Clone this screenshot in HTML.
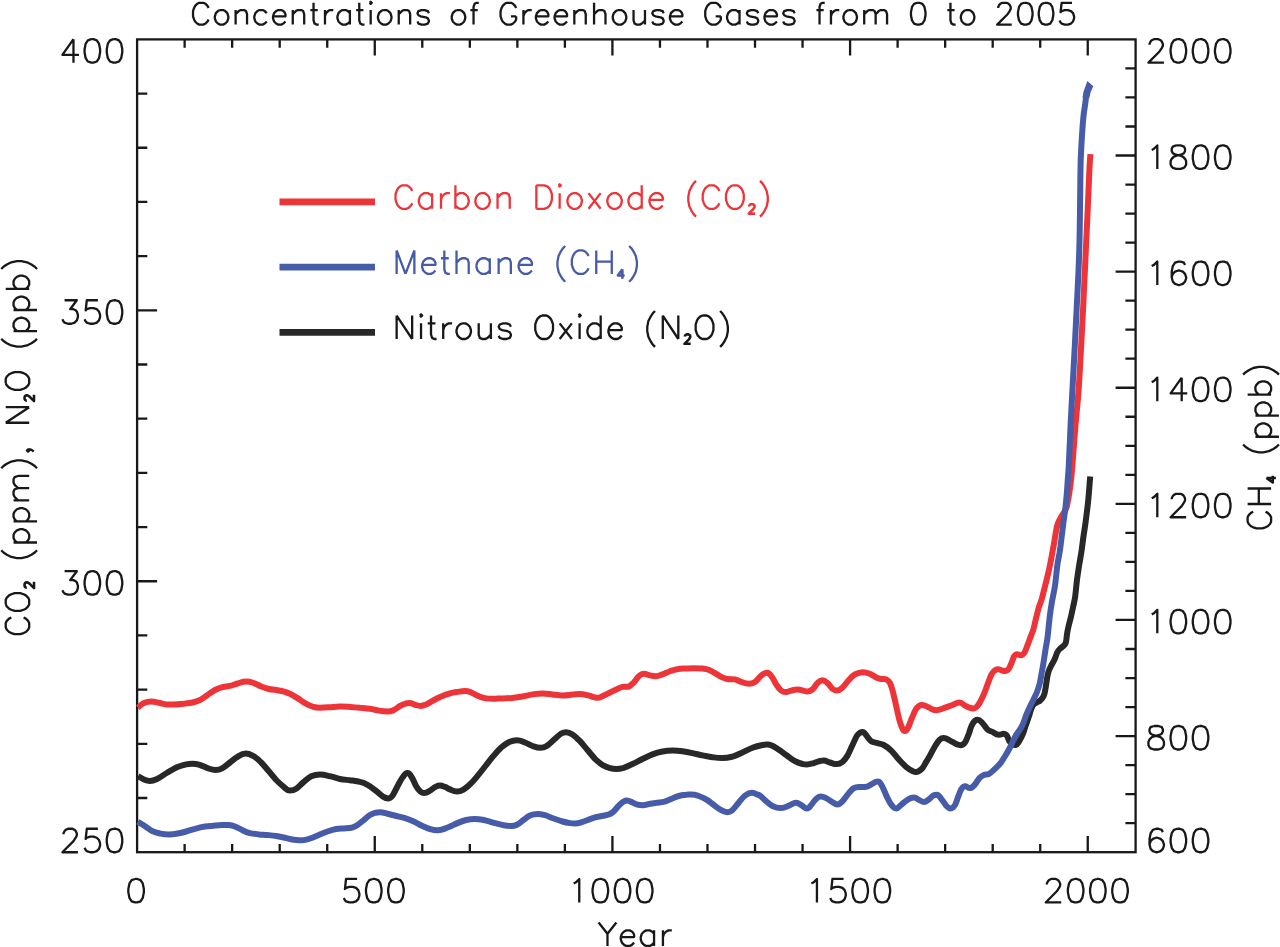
<!DOCTYPE html>
<html lang="en"><head><meta charset="utf-8">
<title>Concentrations of Greenhouse Gases from 0 to 2005</title>
<style>html,body{margin:0;padding:0;background:#fff;font-family:"Liberation Sans",sans-serif;}body{width:1280px;height:947px;overflow:hidden;}svg{display:block;}.t{fill:none;stroke:#181818;stroke-width:2.30;stroke-linecap:butt;stroke-linejoin:round;}.f{fill:none;stroke:#181818;stroke-width:2.30;stroke-linecap:butt;}.c{fill:none;stroke-width:6;stroke-linejoin:round;stroke-linecap:butt;}</style></head><body>
<svg width="1280" height="947" viewBox="0 0 1280 947" role="img" aria-label="Concentrations of Greenhouse Gases from 0 to 2005">
<rect width="1280" height="947" fill="#fff"/>
<path class="f" d="M184.63 852.20V843.90 M184.63 39.40V47.70 M232.16 852.20V843.90 M232.16 39.40V47.70 M279.70 852.20V843.90 M279.70 39.40V47.70 M327.23 852.20V843.90 M327.23 39.40V47.70 M374.76 852.20V836.00 M374.76 39.40V55.60 M422.29 852.20V843.90 M422.29 39.40V47.70 M469.83 852.20V843.90 M469.83 39.40V47.70 M517.36 852.20V843.90 M517.36 39.40V47.70 M564.89 852.20V843.90 M564.89 39.40V47.70 M612.42 852.20V836.00 M612.42 39.40V55.60 M659.96 852.20V843.90 M659.96 39.40V47.70 M707.49 852.20V843.90 M707.49 39.40V47.70 M755.02 852.20V843.90 M755.02 39.40V47.70 M802.56 852.20V843.90 M802.56 39.40V47.70 M850.09 852.20V836.00 M850.09 39.40V55.60 M897.62 852.20V843.90 M897.62 39.40V47.70 M945.15 852.20V843.90 M945.15 39.40V47.70 M992.69 852.20V843.90 M992.69 39.40V47.70 M1040.22 852.20V843.90 M1040.22 39.40V47.70 M1087.75 852.20V836.00 M1087.75 39.40V55.60 M137.10 798.01H147.30 M137.10 743.83H147.30 M137.10 689.64H147.30 M137.10 635.45H147.30 M137.10 581.27H157.10 M137.10 527.08H147.30 M137.10 472.89H147.30 M137.10 418.71H147.30 M137.10 364.52H147.30 M137.10 310.33H157.10 M137.10 256.15H147.30 M137.10 201.96H147.30 M137.10 147.77H147.30 M137.10 93.59H147.30 M1135.60 823.17H1125.40 M1135.60 794.14H1125.40 M1135.60 765.11H1125.40 M1135.60 736.09H1115.60 M1135.60 707.06H1125.40 M1135.60 678.03H1125.40 M1135.60 649.00H1125.40 M1135.60 619.97H1115.60 M1135.60 590.94H1125.40 M1135.60 561.91H1125.40 M1135.60 532.89H1125.40 M1135.60 503.86H1115.60 M1135.60 474.83H1125.40 M1135.60 445.80H1125.40 M1135.60 416.77H1125.40 M1135.60 387.74H1115.60 M1135.60 358.71H1125.40 M1135.60 329.69H1125.40 M1135.60 300.66H1125.40 M1135.60 271.63H1115.60 M1135.60 242.60H1125.40 M1135.60 213.57H1125.40 M1135.60 184.54H1125.40 M1135.60 155.51H1115.60 M1135.60 126.49H1125.40 M1135.60 97.46H1125.40 M1135.60 68.43H1125.40"/>
<rect class="f" x="137.10" y="39.40" width="998.50" height="812.80" stroke-linejoin="miter"/>
<path class="c" stroke="#282828" stroke-width="7.1" d="M138.1 776.2C139.9 777.2 141.5 778.4 143.5 779.2C145.5 780.0 146.6 780.9 150.0 780.9C153.4 780.9 154.6 780.1 157.5 778.8C160.4 777.4 164.2 774.4 167.5 772.5C170.8 770.6 174.4 768.5 177.5 767.1C180.6 765.8 183.8 765.0 186.2 764.4C188.8 763.8 189.2 763.8 192.5 763.8C195.8 763.8 197.5 764.3 200.0 765.0C202.5 765.7 204.9 767.3 207.5 768.1C210.1 768.9 212.0 770.0 215.6 770.0C219.2 770.0 220.1 769.4 222.5 768.1C224.9 766.9 227.5 764.4 230.0 762.5C232.5 760.6 234.9 758.4 237.5 756.9C240.1 755.4 241.7 753.5 245.6 753.5C249.5 753.5 251.1 754.8 253.8 756.2C256.4 757.8 258.8 760.0 261.2 762.5C263.8 765.0 266.2 768.3 268.8 771.2C271.2 774.2 273.8 777.4 276.2 780.0C278.8 782.6 281.5 785.1 283.8 786.9C286.0 788.7 287.0 790.6 290.0 790.6C293.0 790.6 294.0 790.2 296.2 788.8C298.5 787.3 301.2 784.0 303.8 781.9C306.2 779.8 308.5 777.5 311.2 776.2C314.0 775.0 315.5 774.4 320.0 774.4C324.5 774.4 326.7 775.5 330.0 776.2C333.3 777.0 336.7 778.3 340.0 779.0C343.3 779.7 346.7 779.8 350.0 780.2C353.3 780.7 357.1 781.1 360.0 781.9C362.9 782.6 365.0 783.4 367.5 784.8C370.0 786.1 372.5 788.1 375.0 790.0C377.5 791.9 380.3 794.8 382.5 796.2C384.7 797.7 385.7 798.5 388.1 798.5C390.5 798.5 390.9 797.6 392.5 795.6C394.1 793.6 395.8 789.3 397.5 786.2C399.2 783.2 400.8 779.7 402.5 777.5C404.2 775.3 405.2 773.1 407.5 773.1C409.8 773.1 410.4 775.3 411.9 777.5C413.4 779.7 414.9 784.0 416.2 786.2C417.6 788.5 418.6 790.1 420.0 791.2C421.4 792.4 422.0 793.1 424.4 793.1C426.8 793.1 428.2 791.6 430.0 790.6C431.8 789.6 433.3 788.1 435.0 787.2C436.7 786.4 437.6 785.6 440.0 785.6C442.4 785.6 443.3 786.3 445.0 786.9C446.7 787.5 448.0 788.6 450.0 789.4C452.0 790.2 453.6 791.6 456.9 791.6C460.2 791.6 461.4 790.8 463.8 789.4C466.1 788.0 468.8 785.6 471.2 783.1C473.8 780.6 476.2 777.4 478.8 774.4C481.2 771.4 483.8 768.1 486.2 765.0C488.8 761.9 491.2 758.5 493.8 755.6C496.2 752.7 498.8 749.7 501.2 747.5C503.8 745.3 506.1 743.5 508.8 742.2C511.4 741.0 513.0 740.2 516.9 740.2C520.8 740.2 522.4 741.5 525.0 742.5C527.6 743.5 529.9 745.1 532.5 746.0C535.1 746.9 537.0 747.8 540.6 747.8C544.2 747.8 545.1 746.9 547.5 745.4C549.9 743.9 552.7 740.7 555.0 738.8C557.3 736.8 559.4 734.6 561.2 733.5C563.1 732.4 563.5 732.2 566.2 732.2C569.0 732.2 570.2 732.9 572.5 734.4C574.8 735.9 577.5 738.6 580.0 741.2C582.5 743.9 585.0 747.1 587.5 750.0C590.0 752.9 592.5 756.2 595.0 758.8C597.5 761.2 600.0 763.4 602.5 765.0C605.0 766.6 607.7 767.4 610.0 768.1C612.3 768.8 612.9 769.0 616.2 769.0C619.6 769.0 621.0 768.6 623.8 767.8C626.5 766.9 629.4 765.5 632.5 764.0C635.6 762.5 639.2 760.6 642.5 759.0C645.8 757.4 649.2 755.6 652.5 754.4C655.8 753.1 659.2 752.1 662.5 751.5C665.8 750.9 667.7 750.6 672.5 750.6C677.3 750.6 679.2 750.8 682.5 751.2C685.8 751.7 689.2 752.4 692.5 753.1C695.8 753.8 699.2 754.7 702.5 755.4C705.8 756.1 709.2 756.8 712.5 757.2C715.8 757.7 717.7 758.1 722.5 758.1C727.3 758.1 729.2 757.5 732.5 756.6C735.8 755.7 739.2 754.0 742.5 752.5C745.8 751.0 749.2 749.0 752.5 747.8C755.8 746.5 759.9 745.5 762.5 745.0C765.1 744.5 764.4 744.6 768.0 744.6C771.6 744.6 774.5 747.0 777.5 748.8C780.5 750.5 783.3 752.9 786.2 755.0C789.2 757.1 792.3 759.8 795.0 761.2C797.7 762.8 800.5 763.5 802.5 764.0C804.5 764.5 804.2 764.5 806.9 764.5C809.6 764.5 811.6 763.7 813.8 763.1C815.9 762.5 818.3 761.4 820.0 761.0C821.7 760.6 821.3 760.6 823.8 760.6C826.2 760.6 827.8 761.9 830.0 762.5C832.2 763.1 833.9 764.1 836.9 764.1C839.9 764.1 840.7 763.3 842.5 761.9C844.3 760.5 845.8 758.4 847.5 755.6C849.2 752.8 850.8 748.4 852.5 745.0C854.2 741.6 855.8 737.2 857.5 735.0C859.2 732.8 860.2 731.9 862.5 731.9C864.8 731.9 865.4 734.7 866.9 736.2C868.4 737.8 869.5 740.1 871.2 741.2C873.0 742.4 875.4 742.5 877.5 743.1C879.6 743.7 881.5 743.8 883.8 745.0C886.0 746.2 888.8 748.2 891.2 750.6C893.8 753.0 896.2 756.7 898.8 759.4C901.2 762.1 904.0 765.0 906.2 766.9C908.5 768.8 910.8 770.2 912.5 771.0C914.2 771.8 914.0 771.9 916.2 771.9C918.5 771.9 920.2 770.4 921.9 768.8C923.6 767.1 924.9 764.1 926.2 761.9C927.6 759.7 928.5 758.1 930.0 755.5C931.5 752.9 933.4 748.8 935.0 746.2C936.6 743.7 937.9 741.4 939.4 740.0C940.9 738.6 941.2 738.1 943.8 738.1C946.3 738.1 947.9 739.6 950.0 740.6C952.1 741.6 954.5 743.2 956.2 744.0C958.0 744.8 958.5 745.2 960.6 745.2C962.7 745.2 963.6 744.4 965.0 742.5C966.4 740.6 967.5 736.9 968.8 733.8C970.0 730.6 971.0 726.1 972.5 723.8C974.0 721.4 975.1 719.8 977.5 719.8C979.9 719.8 980.8 721.5 982.5 723.1C984.2 724.7 985.8 727.9 987.5 729.4C989.2 730.9 990.6 731.0 992.5 731.9C994.4 732.8 996.0 734.8 998.8 734.8C1001.5 734.8 1001.8 733.8 1003.8 733.8C1005.7 733.8 1006.0 734.4 1006.9 735.6C1007.8 736.9 1008.5 739.8 1009.4 741.2C1010.3 742.7 1011.5 743.8 1012.5 744.4C1013.5 745.0 1013.9 745.0 1015.6 745.0C1017.3 745.0 1018.3 742.5 1019.5 740.7C1020.7 738.9 1021.8 736.5 1022.7 734.4C1023.6 732.3 1024.2 730.1 1024.9 728.0C1025.6 725.9 1026.4 723.8 1027.1 721.7C1027.8 719.6 1028.6 717.4 1029.3 715.3C1030.0 713.2 1030.5 710.8 1031.2 709.0C1031.9 707.2 1032.4 705.9 1033.3 704.8C1034.2 703.7 1035.4 703.3 1036.5 702.6C1037.6 701.9 1038.8 701.6 1039.8 700.8C1040.8 700.0 1041.8 698.9 1042.6 697.8C1043.4 696.7 1043.9 696.0 1044.4 694.1C1044.9 692.2 1045.4 689.2 1045.8 686.7C1046.2 684.2 1046.5 681.8 1046.9 679.3C1047.3 676.8 1047.9 673.8 1048.4 672.0C1048.9 670.2 1049.4 669.5 1049.9 668.3C1050.5 667.1 1051.1 665.8 1051.7 664.6C1052.3 663.4 1053.2 662.2 1053.8 661.0C1054.4 659.8 1054.9 658.6 1055.5 657.2C1056.1 655.8 1056.5 653.9 1057.2 652.5C1057.9 651.1 1058.4 650.3 1059.7 649.0C1061.0 647.7 1063.8 646.1 1064.9 644.6C1066.0 643.1 1066.0 641.6 1066.3 640.0C1066.6 638.4 1066.6 637.2 1066.9 635.0C1067.2 632.8 1067.7 629.9 1068.4 626.8C1069.1 623.7 1070.2 620.2 1071.0 616.6C1071.8 613.0 1072.8 608.6 1073.5 605.2C1074.2 601.8 1074.6 600.6 1075.2 596.3C1075.8 591.9 1076.4 584.3 1077.1 579.1C1077.8 573.9 1078.5 569.6 1079.2 564.9C1080.0 560.1 1080.9 555.4 1081.6 550.6C1082.3 545.8 1082.8 541.0 1083.5 536.3C1084.2 531.5 1084.8 528.0 1085.6 522.1C1086.4 516.2 1087.4 508.3 1088.2 500.7C1089.0 493.1 1089.5 484.5 1090.2 476.4"><title>Nitrous Oxide</title></path>
<path class="c" stroke="#ed3439" stroke-width="7.0" d="M137.7 707.6C139.8 706.1 141.7 704.1 144.0 703.1C146.3 702.1 147.7 701.5 151.2 701.5C154.8 701.5 156.2 702.3 158.8 702.8C161.2 703.2 163.8 704.1 166.2 704.4C168.8 704.7 169.5 704.6 173.8 704.6C178.0 704.6 180.6 704.1 183.8 703.8C186.9 703.4 189.8 703.1 192.5 702.5C195.2 701.9 197.5 701.2 200.0 700.0C202.5 698.8 205.0 696.7 207.5 695.0C210.0 693.3 212.5 691.3 215.0 690.0C217.5 688.7 220.0 687.9 222.5 687.2C225.0 686.6 227.5 686.5 230.0 685.9C232.5 685.3 234.8 684.2 237.5 683.5C240.2 682.8 242.3 681.5 246.2 681.5C250.2 681.5 251.2 682.3 253.8 683.1C256.2 683.9 258.8 685.5 261.2 686.5C263.8 687.5 266.0 688.4 268.8 689.0C271.5 689.6 274.8 689.8 277.5 690.2C280.2 690.7 282.9 691.3 285.0 691.9C287.1 692.5 287.9 692.7 290.0 693.8C292.1 694.8 295.0 696.5 297.5 698.1C300.0 699.7 302.5 701.7 305.0 703.1C307.5 704.5 310.0 705.7 312.5 706.5C315.0 707.3 315.8 707.8 320.0 707.8C324.2 707.8 326.7 707.5 330.0 707.2C333.3 707.0 335.2 706.5 340.0 706.5C344.8 706.5 346.7 706.7 350.0 706.9C353.3 707.1 356.7 707.4 360.0 707.8C363.3 708.1 366.9 708.3 370.0 708.8C373.1 709.2 375.8 710.1 378.8 710.6C381.7 711.1 383.9 711.5 387.5 711.5C391.1 711.5 391.7 710.9 393.8 710.0C395.8 709.1 398.1 707.0 400.0 706.0C401.9 705.0 403.4 704.2 405.0 703.8C406.6 703.3 407.0 703.1 409.4 703.1C411.8 703.1 413.1 704.3 415.0 704.8C416.9 705.2 417.9 705.9 420.6 705.9C423.3 705.9 424.1 705.3 426.2 704.4C428.4 703.5 431.2 701.6 433.8 700.2C436.2 698.9 438.5 697.6 441.2 696.5C444.0 695.4 447.3 694.2 450.0 693.4C452.7 692.6 455.0 692.3 457.5 691.9C460.0 691.5 461.7 691.0 465.0 691.0C468.3 691.0 469.0 691.6 471.2 692.5C473.5 693.4 476.2 695.3 478.8 696.2C481.2 697.2 484.0 698.0 486.2 698.4C488.5 698.8 488.6 698.8 492.5 698.8C496.4 698.8 499.2 698.5 502.5 698.4C505.8 698.3 509.2 698.2 512.5 697.9C515.8 697.6 519.2 697.1 522.5 696.5C525.8 695.9 529.2 694.9 532.5 694.4C535.8 693.9 537.7 693.4 542.5 693.4C547.3 693.4 549.2 694.1 552.5 694.4C555.8 694.7 557.7 695.4 562.5 695.4C567.3 695.4 569.6 694.8 572.5 694.6C575.4 694.4 576.4 694.0 580.0 694.0C583.6 694.0 585.2 694.7 587.5 695.2C589.8 695.8 592.0 696.7 593.8 697.1C595.5 697.5 595.7 697.8 598.1 697.8C600.5 697.8 601.8 696.5 603.8 695.6C605.7 694.7 607.9 693.5 610.0 692.5C612.1 691.5 614.2 690.3 616.2 689.4C618.3 688.5 620.4 687.4 622.5 686.9C624.6 686.4 626.9 687.3 628.8 686.6C630.6 685.9 632.1 684.2 633.8 682.5C635.4 680.8 637.1 677.7 638.8 676.2C640.4 674.8 641.0 673.8 643.8 673.8C646.5 673.8 648.0 675.0 650.0 675.4C652.0 675.8 652.6 676.2 655.6 676.2C658.6 676.2 660.1 675.2 662.5 674.4C664.9 673.6 667.5 672.1 670.0 671.2C672.5 670.4 675.0 669.6 677.5 669.1C680.0 668.6 682.3 668.6 685.0 668.5C687.7 668.4 689.5 668.2 693.8 668.2C698.0 668.2 700.0 668.2 702.5 668.5C705.0 668.8 706.7 669.0 708.8 669.8C710.8 670.5 712.9 671.9 715.0 673.1C717.1 674.3 719.2 675.9 721.2 676.9C723.3 677.9 725.2 678.6 727.5 679.0C729.8 679.4 732.7 678.9 735.0 679.4C737.3 679.9 739.0 681.2 741.2 681.9C743.5 682.6 745.4 683.8 748.8 683.8C752.1 683.8 752.9 683.3 755.0 681.9C757.1 680.5 759.3 677.1 761.2 675.6C763.2 674.1 764.3 672.8 766.9 672.8C769.5 672.8 770.3 675.0 771.9 676.9C773.5 678.8 774.8 682.2 776.2 684.4C777.7 686.6 779.0 688.7 780.6 690.0C782.2 691.3 783.0 692.1 785.6 692.1C788.2 692.1 789.3 691.0 791.2 690.6C793.2 690.2 794.6 689.6 797.5 689.6C800.4 689.6 801.4 690.3 803.1 690.6C804.8 690.9 805.2 691.5 807.5 691.5C809.8 691.5 810.8 690.8 812.5 689.4C814.2 688.0 815.8 684.6 817.5 683.1C819.2 681.6 820.1 680.2 822.5 680.2C824.9 680.2 825.8 681.7 827.5 683.1C829.2 684.5 830.9 687.5 832.5 688.8C834.1 690.0 834.5 690.6 836.9 690.6C839.3 690.6 840.5 689.3 842.5 687.5C844.5 685.7 846.7 682.2 848.8 680.0C850.8 677.8 852.7 675.7 855.0 674.4C857.3 673.1 858.9 672.2 862.5 672.2C866.1 672.2 867.7 672.9 870.0 673.8C872.3 674.6 874.4 676.6 876.2 677.5C878.1 678.4 879.6 678.7 881.2 679.0C882.9 679.3 884.8 678.7 886.2 679.4C887.7 680.1 888.9 680.9 890.0 683.1C891.1 685.3 892.1 688.6 893.1 692.5C894.1 696.4 895.2 701.7 896.2 706.2C897.3 710.8 898.4 716.2 899.4 720.0C900.4 723.8 901.6 726.9 902.5 728.8C903.4 730.6 903.6 731.0 905.0 731.0C906.4 731.0 907.0 729.6 908.1 727.5C909.2 725.4 910.5 721.2 911.9 718.1C913.3 715.0 914.6 710.9 916.2 708.8C917.9 706.6 919.1 705.0 921.5 705.0C923.9 705.0 924.4 705.4 926.0 706.0C927.6 706.6 929.5 708.0 931.2 708.8C933.0 709.5 933.2 710.2 936.2 710.2C939.3 710.2 941.0 709.0 943.8 708.1C946.5 707.2 949.9 705.9 952.5 705.0C955.1 704.1 956.4 702.5 959.4 702.5C962.4 702.5 963.2 704.7 965.0 705.6C966.8 706.5 968.5 707.3 970.0 707.8C971.5 708.3 971.8 708.4 973.8 708.4C975.8 708.4 976.8 706.8 978.1 705.1C979.5 703.4 980.7 700.8 981.9 698.4C983.1 696.0 984.2 693.3 985.2 690.8C986.2 688.3 987.0 685.7 988.0 683.2C989.0 680.7 989.9 677.7 990.9 675.6C991.9 673.5 993.0 672.0 994.2 670.9C995.4 669.8 996.2 669.2 998.0 669.2C999.8 669.2 1000.6 670.1 1001.8 670.4C1003.0 670.7 1003.5 671.1 1005.2 671.1C1006.9 671.1 1007.9 670.0 1009.0 668.5C1010.1 667.0 1010.9 664.4 1011.8 662.3C1012.7 660.2 1013.3 657.5 1014.2 656.1C1015.1 654.8 1015.4 654.2 1017.0 654.2C1018.6 654.2 1019.0 655.2 1020.8 655.2C1022.6 655.2 1023.5 654.0 1024.6 652.3C1025.7 650.6 1026.5 647.7 1027.5 645.2C1028.5 642.8 1029.3 640.2 1030.3 637.6C1031.3 635.0 1032.4 632.6 1033.4 629.3C1034.4 626.0 1035.2 621.5 1036.1 617.9C1037.0 614.3 1037.8 610.9 1038.7 607.7C1039.7 604.5 1040.8 602.5 1041.8 598.9C1042.8 595.3 1043.9 590.8 1045.0 586.3C1046.1 581.8 1047.4 576.8 1048.5 572.0C1049.6 567.2 1050.5 562.5 1051.4 557.7C1052.3 553.0 1053.2 547.8 1054.0 543.5C1054.8 539.2 1055.3 535.3 1055.9 532.0C1056.5 528.7 1056.9 526.1 1057.8 523.5C1058.7 520.9 1060.0 519.0 1061.4 516.4C1062.8 513.8 1065.1 511.6 1066.4 507.8C1067.7 504.0 1068.4 498.2 1069.2 493.5C1070.0 488.8 1070.6 484.1 1071.1 479.3C1071.6 474.6 1071.7 474.1 1072.4 465.0C1073.1 455.9 1074.5 437.7 1075.5 425.0C1076.5 412.3 1077.5 406.2 1078.7 388.7C1079.9 371.2 1081.3 343.2 1082.5 320.0C1083.7 296.8 1084.8 274.2 1085.9 249.2C1087.1 224.2 1088.7 185.8 1089.4 170.0C1090.2 154.2 1090.1 159.5 1090.4 154.2"><title>Carbon Dioxide</title></path>
<path class="c" stroke="#475ca8" stroke-width="6.9" d="M137.8 821.7C140.2 823.2 142.5 824.7 145.0 826.3C147.5 827.9 150.0 830.0 152.5 831.2C155.0 832.5 157.3 833.0 160.0 833.5C162.7 834.0 164.5 834.4 168.8 834.4C173.0 834.4 174.6 834.0 177.5 833.5C180.4 833.0 183.3 832.3 186.2 831.5C189.2 830.7 191.9 829.6 195.0 828.8C198.1 827.9 201.7 827.0 205.0 826.5C208.3 826.0 212.1 825.9 215.0 825.6C217.9 825.4 220.2 825.1 222.5 825.0C224.8 824.9 226.7 824.8 228.8 825.0C230.8 825.2 232.7 825.6 235.0 826.5C237.3 827.4 240.0 829.1 242.5 830.2C245.0 831.4 247.3 832.4 250.0 833.1C252.7 833.8 255.8 834.1 258.8 834.4C261.7 834.7 264.6 834.7 267.5 835.0C270.4 835.3 273.5 835.6 276.2 836.0C279.0 836.4 281.5 837.0 283.8 837.5C286.0 838.0 287.9 838.6 290.0 839.0C292.1 839.4 294.2 839.8 296.2 840.0C298.3 840.2 299.2 840.2 302.5 840.2C305.8 840.2 307.3 839.4 310.0 838.5C312.7 837.6 315.8 836.2 318.8 835.0C321.7 833.8 324.6 832.5 327.5 831.5C330.4 830.5 333.5 829.5 336.2 829.0C339.0 828.5 341.2 828.6 343.8 828.4C346.2 828.2 349.0 828.3 351.2 827.8C353.5 827.2 355.4 826.3 357.5 825.0C359.6 823.7 361.7 821.7 363.8 820.0C365.8 818.3 368.1 816.2 370.0 815.0C371.9 813.8 373.3 813.2 375.0 812.8C376.7 812.3 377.0 812.2 380.0 812.2C383.0 812.2 384.8 813.1 387.5 813.8C390.2 814.4 393.3 815.3 396.2 816.0C399.2 816.7 402.1 817.2 405.0 818.1C407.9 819.0 410.8 820.2 413.8 821.5C416.7 822.8 419.8 824.8 422.5 826.0C425.2 827.2 427.5 828.3 430.0 829.0C432.5 829.7 434.2 830.2 437.5 830.2C440.8 830.2 441.7 829.6 443.8 829.0C445.8 828.4 447.7 827.6 450.0 826.6C452.3 825.6 454.8 824.2 457.5 823.1C460.2 822.0 463.3 820.7 466.2 820.0C469.2 819.3 470.8 819.0 475.0 819.0C479.2 819.0 480.6 819.4 483.8 820.0C486.9 820.6 490.4 821.9 493.8 822.8C497.1 823.6 500.8 824.7 503.8 825.2C506.7 825.8 507.9 826.0 511.2 826.0C514.6 826.0 515.4 825.4 517.5 824.4C519.6 823.4 521.7 821.2 523.8 819.8C525.8 818.3 527.7 816.6 530.0 815.6C532.3 814.6 533.9 814.0 537.5 814.0C541.1 814.0 542.3 814.5 545.0 815.2C547.7 816.0 550.8 817.5 553.8 818.5C556.7 819.5 559.8 820.7 562.5 821.5C565.2 822.3 567.9 822.8 570.0 823.1C572.1 823.4 572.0 823.4 575.0 823.4C578.0 823.4 580.0 822.6 582.5 821.9C585.0 821.2 587.5 820.0 590.0 819.1C592.5 818.2 594.8 817.4 597.5 816.8C600.2 816.1 603.8 815.9 606.2 815.2C608.8 814.5 610.4 814.1 612.5 812.5C614.6 810.9 617.0 807.4 618.8 805.6C620.5 803.8 621.7 802.7 623.1 801.9C624.5 801.1 624.6 800.6 626.9 800.6C629.2 800.6 630.7 801.8 632.5 802.5C634.3 803.2 635.8 804.1 637.5 804.6C639.2 805.1 639.5 805.2 642.5 805.2C645.5 805.2 647.7 804.2 650.0 803.8C652.3 803.3 654.0 803.1 656.2 802.8C658.5 802.4 661.2 802.5 663.8 801.9C666.2 801.3 668.8 800.0 671.2 799.0C673.8 798.0 676.2 796.7 678.8 796.0C681.2 795.3 684.2 795.0 686.2 794.8C688.3 794.5 688.2 794.6 691.2 794.6C694.3 794.6 696.2 795.2 698.8 796.0C701.2 796.8 703.8 797.9 706.2 799.4C708.8 800.9 711.2 803.2 713.8 805.0C716.2 806.8 719.0 809.0 721.2 810.2C723.5 811.5 724.8 812.2 727.5 812.2C730.2 812.2 730.6 811.6 732.5 810.0C734.4 808.4 736.7 804.9 738.8 802.5C740.8 800.1 742.8 797.2 745.0 795.6C747.2 794.0 748.9 792.8 751.9 792.8C754.9 792.8 756.1 794.1 757.5 794.6C758.9 795.1 758.5 794.5 760.0 795.6C761.5 796.7 764.2 799.5 766.2 801.2C768.3 803.0 770.2 804.9 772.5 806.0C774.8 807.1 776.4 808.1 780.0 808.1C783.6 808.1 785.4 807.0 787.5 806.2C789.6 805.5 791.0 804.3 792.5 803.8C794.0 803.2 794.1 802.8 796.2 802.8C798.4 802.8 799.5 804.1 801.2 805.0C803.0 805.9 804.5 808.4 806.9 808.4C809.3 808.4 809.8 806.5 811.2 805.0C812.7 803.5 814.0 800.8 815.6 799.4C817.2 798.0 818.0 796.6 820.6 796.6C823.2 796.6 824.3 797.2 826.2 798.1C828.2 799.0 830.6 801.2 832.5 802.2C834.4 803.3 835.1 804.4 837.5 804.4C839.9 804.4 840.6 803.1 842.5 801.2C844.4 799.4 846.9 795.3 848.8 793.1C850.6 790.9 852.1 789.1 853.8 788.1C855.4 787.1 856.0 786.9 858.8 786.9C861.5 786.9 862.0 787.1 865.0 787.1C868.0 787.1 869.2 785.3 871.2 784.4C873.3 783.5 875.1 781.6 877.5 781.6C879.9 781.6 880.0 782.6 881.2 784.4C882.5 786.2 883.8 789.8 885.0 792.5C886.2 795.2 887.5 798.3 888.8 800.6C890.0 802.9 891.2 804.9 892.5 806.2C893.8 807.6 894.1 808.5 896.2 808.5C898.4 808.5 899.4 806.3 901.2 804.8C903.1 803.3 905.4 801.0 907.5 799.8C909.6 798.5 911.0 797.5 913.8 797.5C916.5 797.5 917.1 799.0 918.8 799.8C920.4 800.5 921.3 801.9 923.8 801.9C926.2 801.9 927.2 800.4 928.8 799.4C930.3 798.4 931.7 796.4 933.1 795.6C934.5 794.8 934.9 794.8 936.9 794.8C938.9 794.8 939.7 796.9 941.2 798.8C942.8 800.6 944.7 804.0 946.2 805.6C947.8 807.2 948.5 808.5 950.6 808.5C952.7 808.5 953.8 806.9 955.0 805.0C956.2 803.1 957.1 799.5 958.1 796.9C959.1 794.3 960.1 791.2 961.2 789.4C962.4 787.6 962.9 786.2 965.0 786.2C967.1 786.2 967.6 788.1 970.0 788.1C972.4 788.1 973.4 786.1 975.0 784.4C976.6 782.7 977.9 779.7 979.4 778.1C980.9 776.5 982.2 775.7 983.8 775.0C985.3 774.3 987.1 774.8 988.8 774.0C990.4 773.2 991.9 771.7 993.8 770.0C995.6 768.3 998.1 766.0 1000.0 763.8C1001.9 761.5 1003.3 759.0 1005.0 756.2C1006.7 753.5 1008.3 750.7 1010.0 747.5C1011.7 744.3 1013.5 739.6 1015.0 736.9C1016.5 734.2 1017.5 733.2 1018.8 731.2C1020.0 729.3 1021.2 727.7 1022.5 725.0C1023.8 722.3 1025.0 718.1 1026.2 715.0C1027.5 711.9 1028.8 709.1 1030.0 706.5C1031.2 703.9 1032.3 701.9 1033.5 699.5C1034.7 697.1 1036.0 694.7 1037.0 692.0C1038.0 689.3 1039.0 686.4 1039.8 683.2C1040.6 680.0 1041.0 676.4 1041.7 672.8C1042.4 669.2 1043.1 665.4 1043.7 661.4C1044.3 657.4 1045.0 653.0 1045.6 649.0C1046.2 645.0 1046.8 643.2 1047.5 637.6C1048.2 632.0 1049.1 621.5 1049.9 615.3C1050.7 609.1 1051.4 605.3 1052.2 600.5C1053.0 595.7 1054.0 592.2 1054.9 586.3C1055.8 580.4 1056.6 570.8 1057.4 564.9C1058.2 559.0 1059.2 555.4 1059.9 550.6C1060.6 545.8 1061.1 541.0 1061.7 536.3C1062.3 531.5 1062.9 526.9 1063.5 522.1C1064.1 517.4 1064.9 512.6 1065.4 507.8C1066.0 503.0 1066.4 498.2 1066.8 493.5C1067.2 488.8 1067.5 484.1 1067.8 479.3C1068.1 474.6 1068.3 474.1 1068.8 465.0C1069.3 455.9 1070.0 437.7 1070.6 425.0C1071.2 412.3 1071.6 406.2 1072.5 388.7C1073.4 371.2 1075.0 343.2 1076.1 320.0C1077.2 296.8 1078.6 274.2 1079.3 249.2C1080.0 224.2 1080.2 186.3 1080.5 170.0C1080.8 153.7 1080.8 158.3 1081.1 151.3C1081.4 144.3 1082.1 133.9 1082.5 128.0C1082.9 122.1 1083.1 119.9 1083.5 116.0C1083.9 112.1 1084.6 108.1 1085.1 104.8C1085.5 101.5 1085.9 98.4 1086.2 96.0C1086.5 93.6 1086.7 92.1 1086.9 90.2"><title>Methane</title></path>
<polygon fill="#475ca8" points="1082.4,97.5 1084.5,88.7 1087.4,81.0 1093.3,86.2 1090.7,92.0 1089.2,98.3"/>
<path class="t" d="M208.60 7.98 L207.56 5.90 L205.49 3.82 L203.41 2.78 L199.25 2.78 L197.17 3.82 L195.09 5.90 L194.06 7.98 L193.02 11.09 L193.02 16.29 L194.06 19.41 L195.09 21.48 L197.17 23.56 L199.25 24.60 L203.41 24.60 L205.49 23.56 L207.56 21.48 L208.60 19.41 M220.03 10.05 L217.95 11.09 L215.88 13.17 L214.84 16.29 L214.84 18.37 L215.88 21.48 L217.95 23.56 L220.03 24.60 L223.15 24.60 L225.23 23.56 L227.30 21.48 L228.34 18.37 L228.34 16.29 L227.30 13.17 L225.23 11.09 L223.15 10.05 L220.03 10.05 M235.62 10.05 L235.62 24.60 M235.62 14.21 L238.73 11.09 L240.81 10.05 L243.93 10.05 L246.01 11.09 L247.05 14.21 L247.05 24.60 M266.79 13.17 L264.71 11.09 L262.63 10.05 L259.51 10.05 L257.44 11.09 L255.36 13.17 L254.32 16.29 L254.32 18.37 L255.36 21.48 L257.44 23.56 L259.51 24.60 L262.63 24.60 L264.71 23.56 L266.79 21.48 M273.02 16.29 L285.49 16.29 L285.49 14.21 L284.45 12.13 L283.41 11.09 L281.33 10.05 L278.22 10.05 L276.14 11.09 L274.06 13.17 L273.02 16.29 L273.02 18.37 L274.06 21.48 L276.14 23.56 L278.22 24.60 L281.33 24.60 L283.41 23.56 L285.49 21.48 M292.76 10.05 L292.76 24.60 M292.76 14.21 L295.88 11.09 L297.96 10.05 L301.07 10.05 L303.15 11.09 L304.19 14.21 L304.19 24.60 M313.54 2.78 L313.54 20.44 L314.58 23.56 L316.66 24.60 L318.74 24.60 M310.42 10.05 L317.70 10.05 M324.97 10.05 L324.97 24.60 M324.97 16.29 L326.01 13.17 L328.09 11.09 L330.16 10.05 L333.28 10.05 M349.91 10.05 L349.91 24.60 M349.91 13.17 L347.83 11.09 L345.75 10.05 L342.63 10.05 L340.56 11.09 L338.48 13.17 L337.44 16.29 L337.44 18.37 L338.48 21.48 L340.56 23.56 L342.63 24.60 L345.75 24.60 L347.83 23.56 L349.91 21.48 M359.26 2.78 L359.26 20.44 L360.30 23.56 L362.37 24.60 L364.45 24.60 M356.14 10.05 L363.41 10.05 M369.65 2.78 L370.69 3.82 L371.72 2.78 L370.69 1.74 L369.65 2.78 M370.69 10.05 L370.69 24.60 M383.15 10.05 L381.08 11.09 L379.00 13.17 L377.96 16.29 L377.96 18.37 L379.00 21.48 L381.08 23.56 L383.15 24.60 L386.27 24.60 L388.35 23.56 L390.43 21.48 L391.47 18.37 L391.47 16.29 L390.43 13.17 L388.35 11.09 L386.27 10.05 L383.15 10.05 M398.74 10.05 L398.74 24.60 M398.74 14.21 L401.86 11.09 L403.93 10.05 L407.05 10.05 L409.13 11.09 L410.17 14.21 L410.17 24.60 M428.87 13.17 L427.83 11.09 L424.71 10.05 L421.60 10.05 L418.48 11.09 L417.44 13.17 L418.48 15.25 L420.56 16.29 L425.75 17.33 L427.83 18.37 L428.87 20.44 L428.87 21.48 L427.83 23.56 L424.71 24.60 L421.60 24.60 L418.48 23.56 L417.44 21.48 M456.92 10.05 L454.85 11.09 L452.77 13.17 L451.73 16.29 L451.73 18.37 L452.77 21.48 L454.85 23.56 L456.92 24.60 L460.04 24.60 L462.12 23.56 L464.20 21.48 L465.24 18.37 L465.24 16.29 L464.20 13.17 L462.12 11.09 L460.04 10.05 L456.92 10.05 M478.74 2.78 L476.66 2.78 L474.59 3.82 L473.55 6.94 L473.55 24.60 M470.43 10.05 L477.70 10.05 M516.15 7.98 L515.11 5.90 L513.03 3.82 L510.95 2.78 L506.80 2.78 L504.72 3.82 L502.64 5.90 L501.60 7.98 L500.56 11.09 L500.56 16.29 L501.60 19.41 L502.64 21.48 L504.72 23.56 L506.80 24.60 L510.95 24.60 L513.03 23.56 L515.11 21.48 L516.15 19.41 L516.15 16.29 M510.95 16.29 L516.15 16.29 M523.42 10.05 L523.42 24.60 M523.42 16.29 L524.46 13.17 L526.54 11.09 L528.61 10.05 L531.73 10.05 M535.89 16.29 L548.36 16.29 L548.36 14.21 L547.32 12.13 L546.28 11.09 L544.20 10.05 L541.08 10.05 L539.00 11.09 L536.93 13.17 L535.89 16.29 L535.89 18.37 L536.93 21.48 L539.00 23.56 L541.08 24.60 L544.20 24.60 L546.28 23.56 L548.36 21.48 M554.59 16.29 L567.06 16.29 L567.06 14.21 L566.02 12.13 L564.98 11.09 L562.90 10.05 L559.78 10.05 L557.71 11.09 L555.63 13.17 L554.59 16.29 L554.59 18.37 L555.63 21.48 L557.71 23.56 L559.78 24.60 L562.90 24.60 L564.98 23.56 L567.06 21.48 M574.33 10.05 L574.33 24.60 M574.33 14.21 L577.45 11.09 L579.53 10.05 L582.64 10.05 L584.72 11.09 L585.76 14.21 L585.76 24.60 M594.07 2.78 L594.07 24.60 M594.07 14.21 L597.19 11.09 L599.27 10.05 L602.38 10.05 L604.46 11.09 L605.50 14.21 L605.50 24.60 M617.97 10.05 L615.89 11.09 L613.81 13.17 L612.77 16.29 L612.77 18.37 L613.81 21.48 L615.89 23.56 L617.97 24.60 L621.09 24.60 L623.16 23.56 L625.24 21.48 L626.28 18.37 L626.28 16.29 L625.24 13.17 L623.16 11.09 L621.09 10.05 L617.97 10.05 M633.55 10.05 L633.55 20.44 L634.59 23.56 L636.67 24.60 L639.79 24.60 L641.87 23.56 L644.98 20.44 M644.98 10.05 L644.98 24.60 M663.68 13.17 L662.64 11.09 L659.53 10.05 L656.41 10.05 L653.29 11.09 L652.25 13.17 L653.29 15.25 L655.37 16.29 L660.57 17.33 L662.64 18.37 L663.68 20.44 L663.68 21.48 L662.64 23.56 L659.53 24.60 L656.41 24.60 L653.29 23.56 L652.25 21.48 M669.92 16.29 L682.39 16.29 L682.39 14.21 L681.35 12.13 L680.31 11.09 L678.23 10.05 L675.11 10.05 L673.03 11.09 L670.96 13.17 L669.92 16.29 L669.92 18.37 L670.96 21.48 L673.03 23.56 L675.11 24.60 L678.23 24.60 L680.31 23.56 L682.39 21.48 M720.83 7.98 L719.79 5.90 L717.71 3.82 L715.63 2.78 L711.48 2.78 L709.40 3.82 L707.32 5.90 L706.28 7.98 L705.24 11.09 L705.24 16.29 L706.28 19.41 L707.32 21.48 L709.40 23.56 L711.48 24.60 L715.63 24.60 L717.71 23.56 L719.79 21.48 L720.83 19.41 L720.83 16.29 M715.63 16.29 L720.83 16.29 M739.53 10.05 L739.53 24.60 M739.53 13.17 L737.45 11.09 L735.37 10.05 L732.26 10.05 L730.18 11.09 L728.10 13.17 L727.06 16.29 L727.06 18.37 L728.10 21.48 L730.18 23.56 L732.26 24.60 L735.37 24.60 L737.45 23.56 L739.53 21.48 M758.23 13.17 L757.19 11.09 L754.08 10.05 L750.96 10.05 L747.84 11.09 L746.80 13.17 L747.84 15.25 L749.92 16.29 L755.12 17.33 L757.19 18.37 L758.23 20.44 L758.23 21.48 L757.19 23.56 L754.08 24.60 L750.96 24.60 L747.84 23.56 L746.80 21.48 M764.47 16.29 L776.93 16.29 L776.93 14.21 L775.90 12.13 L774.86 11.09 L772.78 10.05 L769.66 10.05 L767.58 11.09 L765.51 13.17 L764.47 16.29 L764.47 18.37 L765.51 21.48 L767.58 23.56 L769.66 24.60 L772.78 24.60 L774.86 23.56 L776.93 21.48 M794.60 13.17 L793.56 11.09 L790.44 10.05 L787.32 10.05 L784.21 11.09 L783.17 13.17 L784.21 15.25 L786.29 16.29 L791.48 17.33 L793.56 18.37 L794.60 20.44 L794.60 21.48 L793.56 23.56 L790.44 24.60 L787.32 24.60 L784.21 23.56 L783.17 21.48 M824.73 2.78 L822.65 2.78 L820.57 3.82 L819.53 6.94 L819.53 24.60 M816.42 10.05 L823.69 10.05 M830.96 10.05 L830.96 24.60 M830.96 16.29 L832.00 13.17 L834.08 11.09 L836.16 10.05 L839.27 10.05 M848.63 10.05 L846.55 11.09 L844.47 13.17 L843.43 16.29 L843.43 18.37 L844.47 21.48 L846.55 23.56 L848.63 24.60 L851.74 24.60 L853.82 23.56 L855.90 21.48 L856.94 18.37 L856.94 16.29 L855.90 13.17 L853.82 11.09 L851.74 10.05 L848.63 10.05 M864.21 10.05 L864.21 24.60 M864.21 14.21 L867.33 11.09 L869.41 10.05 L872.52 10.05 L874.60 11.09 L875.64 14.21 L875.64 24.60 M875.64 14.21 L878.76 11.09 L880.83 10.05 L883.95 10.05 L886.03 11.09 L887.07 14.21 L887.07 24.60 M917.20 2.78 L914.08 3.82 L912.00 6.94 L910.97 12.13 L910.97 15.25 L912.00 20.44 L914.08 23.56 L917.20 24.60 L919.28 24.60 L922.39 23.56 L924.47 20.44 L925.51 15.25 L925.51 12.13 L924.47 6.94 L922.39 3.82 L919.28 2.78 L917.20 2.78 M950.45 2.78 L950.45 20.44 L951.49 23.56 L953.56 24.60 L955.64 24.60 M947.33 10.05 L954.60 10.05 M966.03 10.05 L963.95 11.09 L961.88 13.17 L960.84 16.29 L960.84 18.37 L961.88 21.48 L963.95 23.56 L966.03 24.60 L969.15 24.60 L971.23 23.56 L973.31 21.48 L974.34 18.37 L974.34 16.29 L973.31 13.17 L971.23 11.09 L969.15 10.05 L966.03 10.05 M998.24 7.98 L998.24 6.94 L999.28 4.86 L1000.32 3.82 L1002.40 2.78 L1006.55 2.78 L1008.63 3.82 L1009.67 4.86 L1010.71 6.94 L1010.71 9.02 L1009.67 11.09 L1007.59 14.21 L997.20 24.60 L1011.75 24.60 M1024.22 2.78 L1021.10 3.82 L1019.02 6.94 L1017.98 12.13 L1017.98 15.25 L1019.02 20.44 L1021.10 23.56 L1024.22 24.60 L1026.29 24.60 L1029.41 23.56 L1031.49 20.44 L1032.53 15.25 L1032.53 12.13 L1031.49 6.94 L1029.41 3.82 L1026.29 2.78 L1024.22 2.78 M1045.00 2.78 L1041.88 3.82 L1039.80 6.94 L1038.76 12.13 L1038.76 15.25 L1039.80 20.44 L1041.88 23.56 L1045.00 24.60 L1047.07 24.60 L1050.19 23.56 L1052.27 20.44 L1053.31 15.25 L1053.31 12.13 L1052.27 6.94 L1050.19 3.82 L1047.07 2.78 L1045.00 2.78 M1072.01 2.78 L1061.62 2.78 L1060.58 12.13 L1061.62 11.09 L1064.74 10.05 L1067.85 10.05 L1070.97 11.09 L1073.05 13.17 L1074.09 16.29 L1074.09 18.37 L1073.05 21.48 L1070.97 23.56 L1067.85 24.60 L1064.74 24.60 L1061.62 23.56 L1060.58 22.52 L1059.54 20.44"><title>Concentrations of Greenhouse Gases from 0 to 2005</title></path>
<path class="t" d="M73.48 39.17 L62.39 54.82 L79.02 54.82 M73.48 39.17 L73.48 62.65 M91.22 39.17 L87.89 40.29 L85.68 43.64 L84.57 49.23 L84.57 52.59 L85.68 58.18 L87.89 61.53 L91.22 62.65 L93.44 62.65 L96.77 61.53 L98.98 58.18 L100.09 52.59 L100.09 49.23 L98.98 43.64 L96.77 40.29 L93.44 39.17 L91.22 39.17 M113.40 39.17 L110.07 40.29 L107.86 43.64 L106.75 49.23 L106.75 52.59 L107.86 58.18 L110.07 61.53 L113.40 62.65 L115.62 62.65 L118.95 61.53 L121.16 58.18 L122.27 52.59 L122.27 49.23 L121.16 43.64 L118.95 40.29 L115.62 39.17 L113.40 39.17"><title>400</title></path>
<path class="t" d="M64.61 300.26 L76.80 300.26 L70.15 309.20 L73.48 309.20 L75.69 310.32 L76.80 311.44 L77.91 314.79 L77.91 317.03 L76.80 320.38 L74.59 322.62 L71.26 323.73 L67.93 323.73 L64.61 322.62 L63.50 321.50 L62.39 319.26 M97.88 300.26 L86.78 300.26 L85.68 310.32 L86.78 309.20 L90.11 308.08 L93.44 308.08 L96.77 309.20 L98.98 311.44 L100.09 314.79 L100.09 317.03 L98.98 320.38 L96.77 322.62 L93.44 323.73 L90.11 323.73 L86.78 322.62 L85.68 321.50 L84.57 319.26 M113.40 300.26 L110.07 301.37 L107.86 304.73 L106.75 310.32 L106.75 313.67 L107.86 319.26 L110.07 322.62 L113.40 323.73 L115.62 323.73 L118.95 322.62 L121.16 319.26 L122.27 313.67 L122.27 310.32 L121.16 304.73 L118.95 301.37 L115.62 300.26 L113.40 300.26"><title>350</title></path>
<path class="t" d="M64.61 571.19 L76.80 571.19 L70.15 580.13 L73.48 580.13 L75.69 581.25 L76.80 582.37 L77.91 585.72 L77.91 587.96 L76.80 591.31 L74.59 593.55 L71.26 594.67 L67.93 594.67 L64.61 593.55 L63.50 592.43 L62.39 590.19 M91.22 571.19 L87.89 572.31 L85.68 575.66 L84.57 581.25 L84.57 584.60 L85.68 590.19 L87.89 593.55 L91.22 594.67 L93.44 594.67 L96.77 593.55 L98.98 590.19 L100.09 584.60 L100.09 581.25 L98.98 575.66 L96.77 572.31 L93.44 571.19 L91.22 571.19 M113.40 571.19 L110.07 572.31 L107.86 575.66 L106.75 581.25 L106.75 584.60 L107.86 590.19 L110.07 593.55 L113.40 594.67 L115.62 594.67 L118.95 593.55 L121.16 590.19 L122.27 584.60 L122.27 581.25 L121.16 575.66 L118.95 572.31 L115.62 571.19 L113.40 571.19"><title>300</title></path>
<path class="t" d="M63.50 834.36 L63.50 833.24 L64.61 831.01 L65.71 829.89 L67.93 828.77 L72.37 828.77 L74.59 829.89 L75.69 831.01 L76.80 833.24 L76.80 835.48 L75.69 837.72 L73.48 841.07 L62.39 852.25 L77.91 852.25 M97.88 828.77 L86.78 828.77 L85.68 838.83 L86.78 837.72 L90.11 836.60 L93.44 836.60 L96.77 837.72 L98.98 839.95 L100.09 843.31 L100.09 845.54 L98.98 848.90 L96.77 851.13 L93.44 852.25 L90.11 852.25 L86.78 851.13 L85.68 850.01 L84.57 847.78 M113.40 828.77 L110.07 829.89 L107.86 833.24 L106.75 838.83 L106.75 842.19 L107.86 847.78 L110.07 851.13 L113.40 852.25 L115.62 852.25 L118.95 851.13 L121.16 847.78 L122.27 842.19 L122.27 838.83 L121.16 833.24 L118.95 829.89 L115.62 828.77 L113.40 828.77"><title>250</title></path>
<path class="t" d="M1149.54 44.76 L1149.54 43.64 L1150.64 41.41 L1151.75 40.29 L1153.97 39.17 L1158.41 39.17 L1160.63 40.29 L1161.73 41.41 L1162.84 43.64 L1162.84 45.88 L1161.73 48.12 L1159.52 51.47 L1148.43 62.65 L1163.95 62.65 M1177.26 39.17 L1173.93 40.29 L1171.72 43.64 L1170.61 49.23 L1170.61 52.59 L1171.72 58.18 L1173.93 61.53 L1177.26 62.65 L1179.48 62.65 L1182.81 61.53 L1185.02 58.18 L1186.13 52.59 L1186.13 49.23 L1185.02 43.64 L1182.81 40.29 L1179.48 39.17 L1177.26 39.17 M1199.44 39.17 L1196.11 40.29 L1193.90 43.64 L1192.79 49.23 L1192.79 52.59 L1193.90 58.18 L1196.11 61.53 L1199.44 62.65 L1201.66 62.65 L1204.99 61.53 L1207.20 58.18 L1208.31 52.59 L1208.31 49.23 L1207.20 43.64 L1204.99 40.29 L1201.66 39.17 L1199.44 39.17 M1221.62 39.17 L1218.29 40.29 L1216.08 43.64 L1214.97 49.23 L1214.97 52.59 L1216.08 58.18 L1218.29 61.53 L1221.62 62.65 L1223.84 62.65 L1227.17 61.53 L1229.38 58.18 L1230.49 52.59 L1230.49 49.23 L1229.38 43.64 L1227.17 40.29 L1223.84 39.17 L1221.62 39.17"><title>2000</title></path>
<path class="t" d="M1151.75 149.91 L1153.97 148.79 L1157.30 145.44 L1157.30 168.91 M1176.15 145.44 L1172.82 146.55 L1171.72 148.79 L1171.72 151.03 L1172.82 153.26 L1175.04 154.38 L1179.48 155.50 L1182.81 156.62 L1185.02 158.85 L1186.13 161.09 L1186.13 164.44 L1185.02 166.68 L1183.91 167.80 L1180.59 168.91 L1176.15 168.91 L1172.82 167.80 L1171.72 166.68 L1170.61 164.44 L1170.61 161.09 L1171.72 158.85 L1173.93 156.62 L1177.26 155.50 L1181.70 154.38 L1183.91 153.26 L1185.02 151.03 L1185.02 148.79 L1183.91 146.55 L1180.59 145.44 L1176.15 145.44 M1199.44 145.44 L1196.11 146.55 L1193.90 149.91 L1192.79 155.50 L1192.79 158.85 L1193.90 164.44 L1196.11 167.80 L1199.44 168.91 L1201.66 168.91 L1204.99 167.80 L1207.20 164.44 L1208.31 158.85 L1208.31 155.50 L1207.20 149.91 L1204.99 146.55 L1201.66 145.44 L1199.44 145.44 M1221.62 145.44 L1218.29 146.55 L1216.08 149.91 L1214.97 155.50 L1214.97 158.85 L1216.08 164.44 L1218.29 167.80 L1221.62 168.91 L1223.84 168.91 L1227.17 167.80 L1229.38 164.44 L1230.49 158.85 L1230.49 155.50 L1229.38 149.91 L1227.17 146.55 L1223.84 145.44 L1221.62 145.44"><title>1800</title></path>
<path class="t" d="M1151.75 266.02 L1153.97 264.90 L1157.30 261.55 L1157.30 285.03 M1185.02 264.90 L1183.91 262.67 L1180.59 261.55 L1178.37 261.55 L1175.04 262.67 L1172.82 266.02 L1171.72 271.61 L1171.72 277.20 L1172.82 281.67 L1175.04 283.91 L1178.37 285.03 L1179.48 285.03 L1182.81 283.91 L1185.02 281.67 L1186.13 278.32 L1186.13 277.20 L1185.02 273.85 L1182.81 271.61 L1179.48 270.49 L1178.37 270.49 L1175.04 271.61 L1172.82 273.85 L1171.72 277.20 M1199.44 261.55 L1196.11 262.67 L1193.90 266.02 L1192.79 271.61 L1192.79 274.97 L1193.90 280.56 L1196.11 283.91 L1199.44 285.03 L1201.66 285.03 L1204.99 283.91 L1207.20 280.56 L1208.31 274.97 L1208.31 271.61 L1207.20 266.02 L1204.99 262.67 L1201.66 261.55 L1199.44 261.55 M1221.62 261.55 L1218.29 262.67 L1216.08 266.02 L1214.97 271.61 L1214.97 274.97 L1216.08 280.56 L1218.29 283.91 L1221.62 285.03 L1223.84 285.03 L1227.17 283.91 L1229.38 280.56 L1230.49 274.97 L1230.49 271.61 L1229.38 266.02 L1227.17 262.67 L1223.84 261.55 L1221.62 261.55"><title>1600</title></path>
<path class="t" d="M1151.75 382.14 L1153.97 381.02 L1157.30 377.66 L1157.30 401.14 M1181.70 377.66 L1170.61 393.32 L1187.24 393.32 M1181.70 377.66 L1181.70 401.14 M1199.44 377.66 L1196.11 378.78 L1193.90 382.14 L1192.79 387.73 L1192.79 391.08 L1193.90 396.67 L1196.11 400.02 L1199.44 401.14 L1201.66 401.14 L1204.99 400.02 L1207.20 396.67 L1208.31 391.08 L1208.31 387.73 L1207.20 382.14 L1204.99 378.78 L1201.66 377.66 L1199.44 377.66 M1221.62 377.66 L1218.29 378.78 L1216.08 382.14 L1214.97 387.73 L1214.97 391.08 L1216.08 396.67 L1218.29 400.02 L1221.62 401.14 L1223.84 401.14 L1227.17 400.02 L1229.38 396.67 L1230.49 391.08 L1230.49 387.73 L1229.38 382.14 L1227.17 378.78 L1223.84 377.66 L1221.62 377.66"><title>1400</title></path>
<path class="t" d="M1151.75 498.25 L1153.97 497.13 L1157.30 493.78 L1157.30 517.26 M1171.72 499.37 L1171.72 498.25 L1172.82 496.02 L1173.93 494.90 L1176.15 493.78 L1180.59 493.78 L1182.81 494.90 L1183.91 496.02 L1185.02 498.25 L1185.02 500.49 L1183.91 502.72 L1181.70 506.08 L1170.61 517.26 L1186.13 517.26 M1199.44 493.78 L1196.11 494.90 L1193.90 498.25 L1192.79 503.84 L1192.79 507.20 L1193.90 512.79 L1196.11 516.14 L1199.44 517.26 L1201.66 517.26 L1204.99 516.14 L1207.20 512.79 L1208.31 507.20 L1208.31 503.84 L1207.20 498.25 L1204.99 494.90 L1201.66 493.78 L1199.44 493.78 M1221.62 493.78 L1218.29 494.90 L1216.08 498.25 L1214.97 503.84 L1214.97 507.20 L1216.08 512.79 L1218.29 516.14 L1221.62 517.26 L1223.84 517.26 L1227.17 516.14 L1229.38 512.79 L1230.49 507.20 L1230.49 503.84 L1229.38 498.25 L1227.17 494.90 L1223.84 493.78 L1221.62 493.78"><title>1200</title></path>
<path class="t" d="M1151.75 614.37 L1153.97 613.25 L1157.30 609.89 L1157.30 633.37 M1177.26 609.89 L1173.93 611.01 L1171.72 614.37 L1170.61 619.96 L1170.61 623.31 L1171.72 628.90 L1173.93 632.25 L1177.26 633.37 L1179.48 633.37 L1182.81 632.25 L1185.02 628.90 L1186.13 623.31 L1186.13 619.96 L1185.02 614.37 L1182.81 611.01 L1179.48 609.89 L1177.26 609.89 M1199.44 609.89 L1196.11 611.01 L1193.90 614.37 L1192.79 619.96 L1192.79 623.31 L1193.90 628.90 L1196.11 632.25 L1199.44 633.37 L1201.66 633.37 L1204.99 632.25 L1207.20 628.90 L1208.31 623.31 L1208.31 619.96 L1207.20 614.37 L1204.99 611.01 L1201.66 609.89 L1199.44 609.89 M1221.62 609.89 L1218.29 611.01 L1216.08 614.37 L1214.97 619.96 L1214.97 623.31 L1216.08 628.90 L1218.29 632.25 L1221.62 633.37 L1223.84 633.37 L1227.17 632.25 L1229.38 628.90 L1230.49 623.31 L1230.49 619.96 L1229.38 614.37 L1227.17 611.01 L1223.84 609.89 L1221.62 609.89"><title>1000</title></path>
<path class="t" d="M1153.97 726.01 L1150.64 727.13 L1149.54 729.36 L1149.54 731.60 L1150.64 733.83 L1152.86 734.95 L1157.30 736.07 L1160.63 737.19 L1162.84 739.42 L1163.95 741.66 L1163.95 745.01 L1162.84 747.25 L1161.73 748.37 L1158.41 749.49 L1153.97 749.49 L1150.64 748.37 L1149.54 747.25 L1148.43 745.01 L1148.43 741.66 L1149.54 739.42 L1151.75 737.19 L1155.08 736.07 L1159.52 734.95 L1161.73 733.83 L1162.84 731.60 L1162.84 729.36 L1161.73 727.13 L1158.41 726.01 L1153.97 726.01 M1177.26 726.01 L1173.93 727.13 L1171.72 730.48 L1170.61 736.07 L1170.61 739.42 L1171.72 745.01 L1173.93 748.37 L1177.26 749.49 L1179.48 749.49 L1182.81 748.37 L1185.02 745.01 L1186.13 739.42 L1186.13 736.07 L1185.02 730.48 L1182.81 727.13 L1179.48 726.01 L1177.26 726.01 M1199.44 726.01 L1196.11 727.13 L1193.90 730.48 L1192.79 736.07 L1192.79 739.42 L1193.90 745.01 L1196.11 748.37 L1199.44 749.49 L1201.66 749.49 L1204.99 748.37 L1207.20 745.01 L1208.31 739.42 L1208.31 736.07 L1207.20 730.48 L1204.99 727.13 L1201.66 726.01 L1199.44 726.01"><title>800</title></path>
<path class="t" d="M1162.84 832.13 L1161.73 829.89 L1158.41 828.77 L1156.19 828.77 L1152.86 829.89 L1150.64 833.24 L1149.54 838.83 L1149.54 844.42 L1150.64 848.90 L1152.86 851.13 L1156.19 852.25 L1157.30 852.25 L1160.63 851.13 L1162.84 848.90 L1163.95 845.54 L1163.95 844.42 L1162.84 841.07 L1160.63 838.83 L1157.30 837.72 L1156.19 837.72 L1152.86 838.83 L1150.64 841.07 L1149.54 844.42 M1177.26 828.77 L1173.93 829.89 L1171.72 833.24 L1170.61 838.83 L1170.61 842.19 L1171.72 847.78 L1173.93 851.13 L1177.26 852.25 L1179.48 852.25 L1182.81 851.13 L1185.02 847.78 L1186.13 842.19 L1186.13 838.83 L1185.02 833.24 L1182.81 829.89 L1179.48 828.77 L1177.26 828.77 M1199.44 828.77 L1196.11 829.89 L1193.90 833.24 L1192.79 838.83 L1192.79 842.19 L1193.90 847.78 L1196.11 851.13 L1199.44 852.25 L1201.66 852.25 L1204.99 851.13 L1207.20 847.78 L1208.31 842.19 L1208.31 838.83 L1207.20 833.24 L1204.99 829.89 L1201.66 828.77 L1199.44 828.77"><title>600</title></path>
<path class="t" d="M134.99 878.97 L131.66 880.09 L129.45 883.44 L128.34 889.03 L128.34 892.39 L129.45 897.98 L131.66 901.33 L134.99 902.45 L137.21 902.45 L140.54 901.33 L142.75 897.98 L143.86 892.39 L143.86 889.03 L142.75 883.44 L140.54 880.09 L137.21 878.97 L134.99 878.97"><title>0</title></path>
<path class="t" d="M357.13 878.97 L346.04 878.97 L344.93 889.03 L346.04 887.92 L349.36 886.80 L352.69 886.80 L356.02 887.92 L358.24 890.15 L359.35 893.51 L359.35 895.74 L358.24 899.10 L356.02 901.33 L352.69 902.45 L349.36 902.45 L346.04 901.33 L344.93 900.21 L343.82 897.98 M372.65 878.97 L369.33 880.09 L367.11 883.44 L366.00 889.03 L366.00 892.39 L367.11 897.98 L369.33 901.33 L372.65 902.45 L374.87 902.45 L378.20 901.33 L380.42 897.98 L381.53 892.39 L381.53 889.03 L380.42 883.44 L378.20 880.09 L374.87 878.97 L372.65 878.97 M394.83 878.97 L391.51 880.09 L389.29 883.44 L388.18 889.03 L388.18 892.39 L389.29 897.98 L391.51 901.33 L394.83 902.45 L397.05 902.45 L400.38 901.33 L402.60 897.98 L403.71 892.39 L403.71 889.03 L402.60 883.44 L400.38 880.09 L397.05 878.97 L394.83 878.97"><title>500</title></path>
<path class="t" d="M573.72 883.44 L575.94 882.33 L579.26 878.97 L579.26 902.45 M599.23 878.97 L595.90 880.09 L593.68 883.44 L592.57 889.03 L592.57 892.39 L593.68 897.98 L595.90 901.33 L599.23 902.45 L601.44 902.45 L604.77 901.33 L606.99 897.98 L608.10 892.39 L608.10 889.03 L606.99 883.44 L604.77 880.09 L601.44 878.97 L599.23 878.97 M621.41 878.97 L618.08 880.09 L615.86 883.44 L614.75 889.03 L614.75 892.39 L615.86 897.98 L618.08 901.33 L621.41 902.45 L623.62 902.45 L626.95 901.33 L629.17 897.98 L630.28 892.39 L630.28 889.03 L629.17 883.44 L626.95 880.09 L623.62 878.97 L621.41 878.97 M643.59 878.97 L640.26 880.09 L638.04 883.44 L636.93 889.03 L636.93 892.39 L638.04 897.98 L640.26 901.33 L643.59 902.45 L645.80 902.45 L649.13 901.33 L651.35 897.98 L652.46 892.39 L652.46 889.03 L651.35 883.44 L649.13 880.09 L645.80 878.97 L643.59 878.97"><title>1000</title></path>
<path class="t" d="M811.38 883.44 L813.60 882.33 L816.93 878.97 L816.93 902.45 M843.54 878.97 L832.45 878.97 L831.34 889.03 L832.45 887.92 L835.78 886.80 L839.11 886.80 L842.43 887.92 L844.65 890.15 L845.76 893.51 L845.76 895.74 L844.65 899.10 L842.43 901.33 L839.11 902.45 L835.78 902.45 L832.45 901.33 L831.34 900.21 L830.23 897.98 M859.07 878.97 L855.74 880.09 L853.52 883.44 L852.41 889.03 L852.41 892.39 L853.52 897.98 L855.74 901.33 L859.07 902.45 L861.29 902.45 L864.61 901.33 L866.83 897.98 L867.94 892.39 L867.94 889.03 L866.83 883.44 L864.61 880.09 L861.29 878.97 L859.07 878.97 M881.25 878.97 L877.92 880.09 L875.70 883.44 L874.59 889.03 L874.59 892.39 L875.70 897.98 L877.92 901.33 L881.25 902.45 L883.47 902.45 L886.79 901.33 L889.01 897.98 L890.12 892.39 L890.12 889.03 L889.01 883.44 L886.79 880.09 L883.47 878.97 L881.25 878.97"><title>1500</title></path>
<path class="t" d="M1046.83 884.56 L1046.83 883.44 L1047.93 881.21 L1049.04 880.09 L1051.26 878.97 L1055.70 878.97 L1057.92 880.09 L1059.03 881.21 L1060.13 883.44 L1060.13 885.68 L1059.03 887.92 L1056.81 891.27 L1045.72 902.45 L1061.24 902.45 M1074.55 878.97 L1071.22 880.09 L1069.01 883.44 L1067.90 889.03 L1067.90 892.39 L1069.01 897.98 L1071.22 901.33 L1074.55 902.45 L1076.77 902.45 L1080.10 901.33 L1082.31 897.98 L1083.42 892.39 L1083.42 889.03 L1082.31 883.44 L1080.10 880.09 L1076.77 878.97 L1074.55 878.97 M1096.73 878.97 L1093.40 880.09 L1091.19 883.44 L1090.08 889.03 L1090.08 892.39 L1091.19 897.98 L1093.40 901.33 L1096.73 902.45 L1098.95 902.45 L1102.28 901.33 L1104.49 897.98 L1105.60 892.39 L1105.60 889.03 L1104.49 883.44 L1102.28 880.09 L1098.95 878.97 L1096.73 878.97 M1118.91 878.97 L1115.58 880.09 L1113.37 883.44 L1112.26 889.03 L1112.26 892.39 L1113.37 897.98 L1115.58 901.33 L1118.91 902.45 L1121.13 902.45 L1124.46 901.33 L1126.67 897.98 L1127.78 892.39 L1127.78 889.03 L1126.67 883.44 L1124.46 880.09 L1121.13 878.97 L1118.91 878.97"><title>2000</title></path>
<path class="t" d="M598.61 922.52 L607.48 933.70 L607.48 946.00 M616.35 922.52 L607.48 933.70 M620.79 937.06 L634.10 937.06 L634.10 934.82 L632.99 932.58 L631.88 931.47 L629.66 930.35 L626.33 930.35 L624.12 931.47 L621.90 933.70 L620.79 937.06 L620.79 939.29 L621.90 942.65 L624.12 944.88 L626.33 946.00 L629.66 946.00 L631.88 944.88 L634.10 942.65 M654.06 930.35 L654.06 946.00 M654.06 933.70 L651.84 931.47 L649.62 930.35 L646.30 930.35 L644.08 931.47 L641.86 933.70 L640.75 937.06 L640.75 939.29 L641.86 942.65 L644.08 944.88 L646.30 946.00 L649.62 946.00 L651.84 944.88 L654.06 942.65 M662.93 930.35 L662.93 946.00 M662.93 937.06 L664.04 933.70 L666.26 931.47 L668.48 930.35 L671.80 930.35"><title>Year</title></path>
<path d="M279.5 201.9H375.0" fill="none" stroke="#ed3439" stroke-width="6.7"/>
<path d="M279.5 267.1H375.0" fill="none" stroke="#475ca8" stroke-width="6.7"/>
<path d="M279.5 332.3H375.0" fill="none" stroke="#282828" stroke-width="6.7"/>
<g role="img" aria-label="Carbon Dioxode (CO2)">
<path class="t" style="stroke:#ed3439;" d="M412.16 190.91 L411.05 188.68 L408.83 186.44 L406.62 185.32 L402.18 185.32 L399.96 186.44 L397.75 188.68 L396.64 190.91 L395.53 194.27 L395.53 199.86 L396.64 203.21 L397.75 205.45 L399.96 207.68 L402.18 208.80 L406.62 208.80 L408.83 207.68 L411.05 205.45 L412.16 203.21 M432.12 193.15 L432.12 208.80 M432.12 196.50 L429.91 194.27 L427.69 193.15 L424.36 193.15 L422.14 194.27 L419.93 196.50 L418.82 199.86 L418.82 202.09 L419.93 205.45 L422.14 207.68 L424.36 208.80 L427.69 208.80 L429.91 207.68 L432.12 205.45 M441.00 193.15 L441.00 208.80 M441.00 199.86 L442.11 196.50 L444.32 194.27 L446.54 193.15 L449.87 193.15 M455.41 185.32 L455.41 208.80 M455.41 196.50 L457.63 194.27 L459.85 193.15 L463.18 193.15 L465.39 194.27 L467.61 196.50 L468.72 199.86 L468.72 202.09 L467.61 205.45 L465.39 207.68 L463.18 208.80 L459.85 208.80 L457.63 207.68 L455.41 205.45 M480.92 193.15 L478.70 194.27 L476.48 196.50 L475.38 199.86 L475.38 202.09 L476.48 205.45 L478.70 207.68 L480.92 208.80 L484.25 208.80 L486.46 207.68 L488.68 205.45 L489.79 202.09 L489.79 199.86 L488.68 196.50 L486.46 194.27 L484.25 193.15 L480.92 193.15 M497.55 193.15 L497.55 208.80 M497.55 197.62 L500.88 194.27 L503.10 193.15 L506.43 193.15 L508.64 194.27 L509.75 197.62 L509.75 208.80 M536.37 185.32 L536.37 208.80 M536.37 185.32 L544.13 185.32 L547.46 186.44 L549.68 188.68 L550.79 190.91 L551.90 194.27 L551.90 199.86 L550.79 203.21 L549.68 205.45 L547.46 207.68 L544.13 208.80 L536.37 208.80 M558.55 185.32 L559.66 186.44 L560.77 185.32 L559.66 184.20 L558.55 185.32 M559.66 193.15 L559.66 208.80 M572.97 193.15 L570.75 194.27 L568.53 196.50 L567.42 199.86 L567.42 202.09 L568.53 205.45 L570.75 207.68 L572.97 208.80 L576.29 208.80 L578.51 207.68 L580.73 205.45 L581.84 202.09 L581.84 199.86 L580.73 196.50 L578.51 194.27 L576.29 193.15 L572.97 193.15 M588.49 193.15 L600.69 208.80 M600.69 193.15 L588.49 208.80 M612.89 193.15 L610.67 194.27 L608.45 196.50 L607.35 199.86 L607.35 202.09 L608.45 205.45 L610.67 207.68 L612.89 208.80 L616.22 208.80 L618.44 207.68 L620.65 205.45 L621.76 202.09 L621.76 199.86 L620.65 196.50 L618.44 194.27 L616.22 193.15 L612.89 193.15 M641.72 185.32 L641.72 208.80 M641.72 196.50 L639.51 194.27 L637.29 193.15 L633.96 193.15 L631.74 194.27 L629.53 196.50 L628.42 199.86 L628.42 202.09 L629.53 205.45 L631.74 207.68 L633.96 208.80 L637.29 208.80 L639.51 207.68 L641.72 205.45 M649.49 199.86 L662.80 199.86 L662.80 197.62 L661.69 195.38 L660.58 194.27 L658.36 193.15 L655.03 193.15 L652.82 194.27 L650.60 196.50 L649.49 199.86 L649.49 202.09 L650.60 205.45 L652.82 207.68 L655.03 208.80 L658.36 208.80 L660.58 207.68 L662.80 205.45 M696.07 180.85 L693.85 183.09 L691.63 186.44 L689.41 190.91 L688.30 196.50 L688.30 200.97 L689.41 206.56 L691.63 211.04 L693.85 214.39 L696.07 216.63 M719.36 190.91 L718.25 188.68 L716.03 186.44 L713.81 185.32 L709.37 185.32 L707.16 186.44 L704.94 188.68 L703.83 190.91 L702.72 194.27 L702.72 199.86 L703.83 203.21 L704.94 205.45 L707.16 207.68 L709.37 208.80 L713.81 208.80 L716.03 207.68 L718.25 205.45 L719.36 203.21 M732.66 185.32 L730.44 186.44 L728.23 188.68 L727.12 190.91 L726.01 194.27 L726.01 199.86 L727.12 203.21 L728.23 205.45 L730.44 207.68 L732.66 208.80 L737.10 208.80 L739.32 207.68 L741.54 205.45 L742.64 203.21 L743.75 199.86 L743.75 194.27 L742.64 190.91 L741.54 188.68 L739.32 186.44 L737.10 185.32 L732.66 185.32 M760.01 180.85 L762.23 183.09 L764.44 186.44 L766.66 190.91 L767.77 196.50 L767.77 200.97 L766.66 206.56 L764.44 211.04 L762.23 214.39 L760.01 216.63"/>
<path class="t" style="stroke:#ed3439;stroke-width:2.55" d="M749.18 206.40 L749.18 205.95 L749.63 205.05 L750.08 204.60 L750.98 204.15 L752.78 204.15 L753.68 204.60 L754.13 205.05 L754.58 205.95 L754.58 206.85 L754.13 207.75 L753.23 209.10 L748.73 213.60 L755.03 213.60"/>
</g>
<g role="img" aria-label="Methane (CH4)">
<path class="t" style="stroke:#475ca8;" d="M396.64 250.42 L396.64 273.90 M396.64 250.42 L405.51 273.90 M414.38 250.42 L405.51 273.90 M414.38 250.42 L414.38 273.90 M422.14 264.96 L435.45 264.96 L435.45 262.72 L434.34 260.48 L433.23 259.37 L431.01 258.25 L427.69 258.25 L425.47 259.37 L423.25 261.60 L422.14 264.96 L422.14 267.19 L423.25 270.55 L425.47 272.78 L427.69 273.90 L431.01 273.90 L433.23 272.78 L435.45 270.55 M444.32 250.42 L444.32 269.43 L445.43 272.78 L447.65 273.90 L449.87 273.90 M441.00 258.25 L448.76 258.25 M456.52 250.42 L456.52 273.90 M456.52 262.72 L459.85 259.37 L462.07 258.25 L465.39 258.25 L467.61 259.37 L468.72 262.72 L468.72 273.90 M489.79 258.25 L489.79 273.90 M489.79 261.60 L487.57 259.37 L485.36 258.25 L482.03 258.25 L479.81 259.37 L477.59 261.60 L476.48 264.96 L476.48 267.19 L477.59 270.55 L479.81 272.78 L482.03 273.90 L485.36 273.90 L487.57 272.78 L489.79 270.55 M498.66 258.25 L498.66 273.90 M498.66 262.72 L501.99 259.37 L504.21 258.25 L507.54 258.25 L509.75 259.37 L510.86 262.72 L510.86 273.90 M518.63 264.96 L531.93 264.96 L531.93 262.72 L530.83 260.48 L529.72 259.37 L527.50 258.25 L524.17 258.25 L521.95 259.37 L519.74 261.60 L518.63 264.96 L518.63 267.19 L519.74 270.55 L521.95 272.78 L524.17 273.90 L527.50 273.90 L529.72 272.78 L531.93 270.55 M565.20 245.95 L562.99 248.19 L560.77 251.54 L558.55 256.01 L557.44 261.60 L557.44 266.07 L558.55 271.66 L560.77 276.14 L562.99 279.49 L565.20 281.73 M588.49 256.01 L587.38 253.78 L585.17 251.54 L582.95 250.42 L578.51 250.42 L576.29 251.54 L574.08 253.78 L572.97 256.01 L571.86 259.37 L571.86 264.96 L572.97 268.31 L574.08 270.55 L576.29 272.78 L578.51 273.90 L582.95 273.90 L585.17 272.78 L587.38 270.55 L588.49 268.31 M596.26 250.42 L596.26 273.90 M611.78 250.42 L611.78 273.90 M596.26 261.60 L611.78 261.60 M629.14 245.95 L631.36 248.19 L633.58 251.54 L635.80 256.01 L636.91 261.60 L636.91 266.07 L635.80 271.66 L633.58 276.14 L631.36 279.49 L629.14 281.73"/>
<path class="t" style="stroke:#475ca8;stroke-width:2.55" d="M622.37 269.25 L617.87 275.55 L624.62 275.55 M622.37 269.25 L622.37 278.70"/>
</g>
<g role="img" aria-label="Nitrous Oxide (N2O)">
<path class="t" d="M396.64 315.52 L396.64 339.00 M396.64 315.52 L412.16 339.00 M412.16 315.52 L412.16 339.00 M419.93 315.52 L421.03 316.64 L422.14 315.52 L421.03 314.40 L419.93 315.52 M421.03 323.35 L421.03 339.00 M431.01 315.52 L431.01 334.53 L432.12 337.88 L434.34 339.00 L436.56 339.00 M427.69 323.35 L435.45 323.35 M443.21 323.35 L443.21 339.00 M443.21 330.06 L444.32 326.70 L446.54 324.47 L448.76 323.35 L452.09 323.35 M462.07 323.35 L459.85 324.47 L457.63 326.70 L456.52 330.06 L456.52 332.29 L457.63 335.65 L459.85 337.88 L462.07 339.00 L465.39 339.00 L467.61 337.88 L469.83 335.65 L470.94 332.29 L470.94 330.06 L469.83 326.70 L467.61 324.47 L465.39 323.35 L462.07 323.35 M478.70 323.35 L478.70 334.53 L479.81 337.88 L482.03 339.00 L485.36 339.00 L487.57 337.88 L490.90 334.53 M490.90 323.35 L490.90 339.00 M510.86 326.70 L509.75 324.47 L506.43 323.35 L503.10 323.35 L499.77 324.47 L498.66 326.70 L499.77 328.94 L501.99 330.06 L507.54 331.17 L509.75 332.29 L510.86 334.53 L510.86 335.65 L509.75 337.88 L506.43 339.00 L503.10 339.00 L499.77 337.88 L498.66 335.65 M541.91 315.52 L539.70 316.64 L537.48 318.88 L536.37 321.11 L535.26 324.47 L535.26 330.06 L536.37 333.41 L537.48 335.65 L539.70 337.88 L541.91 339.00 L546.35 339.00 L548.57 337.88 L550.79 335.65 L551.90 333.41 L553.00 330.06 L553.00 324.47 L551.90 321.11 L550.79 318.88 L548.57 316.64 L546.35 315.52 L541.91 315.52 M559.66 323.35 L571.86 339.00 M571.86 323.35 L559.66 339.00 M578.51 315.52 L579.62 316.64 L580.73 315.52 L579.62 314.40 L578.51 315.52 M579.62 323.35 L579.62 339.00 M600.69 315.52 L600.69 339.00 M600.69 326.70 L598.47 324.47 L596.26 323.35 L592.93 323.35 L590.71 324.47 L588.49 326.70 L587.38 330.06 L587.38 332.29 L588.49 335.65 L590.71 337.88 L592.93 339.00 L596.26 339.00 L598.47 337.88 L600.69 335.65 M608.46 330.06 L621.76 330.06 L621.76 327.82 L620.65 325.58 L619.55 324.47 L617.33 323.35 L614.00 323.35 L611.78 324.47 L609.56 326.70 L608.46 330.06 L608.46 332.29 L609.56 335.65 L611.78 337.88 L614.00 339.00 L617.33 339.00 L619.55 337.88 L621.76 335.65 M655.03 311.05 L652.82 313.29 L650.60 316.64 L648.38 321.11 L647.27 326.70 L647.27 331.17 L648.38 336.76 L650.60 341.24 L652.82 344.59 L655.03 346.83 M662.80 315.52 L662.80 339.00 M662.80 315.52 L678.32 339.00 M678.32 315.52 L678.32 339.00 M702.34 315.52 L700.12 316.64 L697.90 318.88 L696.79 321.11 L695.69 324.47 L695.69 330.06 L696.79 333.41 L697.90 335.65 L700.12 337.88 L702.34 339.00 L706.78 339.00 L708.99 337.88 L711.21 335.65 L712.32 333.41 L713.43 330.06 L713.43 324.47 L712.32 321.11 L711.21 318.88 L708.99 316.64 L706.78 315.52 L702.34 315.52 M720.08 311.05 L722.30 313.29 L724.52 316.64 L726.74 321.11 L727.85 326.70 L727.85 331.17 L726.74 336.76 L724.52 341.24 L722.30 344.59 L720.08 346.83"/>
<path class="t" style="stroke-width:2.55" d="M684.86 336.60 L684.86 336.15 L685.31 335.25 L685.76 334.80 L686.66 334.35 L688.46 334.35 L689.36 334.80 L689.81 335.25 L690.26 336.15 L690.26 337.05 L689.81 337.95 L688.91 339.30 L684.41 343.80 L690.71 343.80"/>
</g>
<g role="img" aria-label="CO2 (ppm), N2O (ppb)">
<path class="t" d="M11.31 617.54 L9.08 618.65 L6.84 620.87 L5.72 623.08 L5.72 627.52 L6.84 629.74 L9.08 631.96 L11.31 633.06 L14.67 634.17 L20.26 634.17 L23.61 633.06 L25.85 631.96 L28.08 629.74 L29.20 627.52 L29.20 623.08 L28.08 620.87 L25.85 618.65 L23.61 617.54 M5.72 604.23 L6.84 606.45 L9.08 608.67 L11.31 609.77 L14.67 610.88 L20.26 610.88 L23.61 609.77 L25.85 608.67 L28.08 606.45 L29.20 604.23 L29.20 599.79 L28.08 597.58 L25.85 595.36 L23.61 594.25 L20.26 593.14 L14.67 593.14 L11.31 594.25 L9.08 595.36 L6.84 597.58 L5.72 599.79 L5.72 604.23 M1.25 550.27 L3.49 552.49 L6.84 554.71 L11.31 556.92 L16.90 558.03 L21.37 558.03 L26.96 556.92 L31.44 554.71 L34.79 552.49 L37.03 550.27 M13.55 542.51 L37.03 542.51 M16.90 542.51 L14.67 540.29 L13.55 538.07 L13.55 534.74 L14.67 532.53 L16.90 530.31 L20.26 529.20 L22.49 529.20 L25.85 530.31 L28.08 532.53 L29.20 534.74 L29.20 538.07 L28.08 540.29 L25.85 542.51 M13.55 521.44 L37.03 521.44 M16.90 521.44 L14.67 519.22 L13.55 517.00 L13.55 513.67 L14.67 511.45 L16.90 509.24 L20.26 508.13 L22.49 508.13 L25.85 509.24 L28.08 511.45 L29.20 513.67 L29.20 517.00 L28.08 519.22 L25.85 521.44 M13.55 500.37 L29.20 500.37 M18.02 500.37 L14.67 497.04 L13.55 494.82 L13.55 491.49 L14.67 489.27 L18.02 488.17 L29.20 488.17 M18.02 488.17 L14.67 484.84 L13.55 482.62 L13.55 479.29 L14.67 477.08 L18.02 475.97 L29.20 475.97 M1.25 468.20 L3.49 465.99 L6.84 463.77 L11.31 461.55 L16.90 460.44 L21.37 460.44 L26.96 461.55 L31.44 463.77 L34.79 465.99 L37.03 468.20 M28.08 449.35 L29.20 450.46 L28.08 451.57 L26.96 450.46 L28.08 449.35 L30.32 449.35 L32.55 450.46 L33.67 451.57 M5.72 422.74 L29.20 422.74 M5.72 422.74 L29.20 407.21 M5.72 407.21 L29.20 407.21 M5.72 383.19 L6.84 385.41 L9.08 387.63 L11.31 388.74 L14.67 389.85 L20.26 389.85 L23.61 388.74 L25.85 387.63 L28.08 385.41 L29.20 383.19 L29.20 378.76 L28.08 376.54 L25.85 374.32 L23.61 373.21 L20.26 372.10 L14.67 372.10 L11.31 373.21 L9.08 374.32 L6.84 376.54 L5.72 378.76 L5.72 383.19 M1.25 338.83 L3.49 341.05 L6.84 343.27 L11.31 345.49 L16.90 346.60 L21.37 346.60 L26.96 345.49 L31.44 343.27 L34.79 341.05 L37.03 338.83 M13.55 331.07 L37.03 331.07 M16.90 331.07 L14.67 328.85 L13.55 326.63 L13.55 323.31 L14.67 321.09 L16.90 318.87 L20.26 317.76 L22.49 317.76 L25.85 318.87 L28.08 321.09 L29.20 323.31 L29.20 326.63 L28.08 328.85 L25.85 331.07 M13.55 310.00 L37.03 310.00 M16.90 310.00 L14.67 307.78 L13.55 305.56 L13.55 302.24 L14.67 300.02 L16.90 297.80 L20.26 296.69 L22.49 296.69 L25.85 297.80 L28.08 300.02 L29.20 302.24 L29.20 305.56 L28.08 307.78 L25.85 310.00 M5.72 288.93 L29.20 288.93 M16.90 288.93 L14.67 286.71 L13.55 284.49 L13.55 281.16 L14.67 278.95 L16.90 276.73 L20.26 275.62 L22.49 275.62 L25.85 276.73 L28.08 278.95 L29.20 281.16 L29.20 284.49 L28.08 286.71 L25.85 288.93 M1.25 268.97 L3.49 266.75 L6.84 264.53 L11.31 262.31 L16.90 261.20 L21.37 261.20 L26.96 262.31 L31.44 264.53 L34.79 266.75 L37.03 268.97"/>
<path class="t" style="stroke-width:2.55" d="M26.80 587.71 L26.35 587.71 L25.45 587.26 L25.00 586.81 L24.55 585.91 L24.55 584.11 L25.00 583.21 L25.45 582.76 L26.35 582.31 L27.25 582.31 L28.15 582.76 L29.50 583.66 L34.00 588.16 L34.00 581.86 M26.80 400.67 L26.35 400.67 L25.45 400.22 L25.00 399.77 L24.55 398.87 L24.55 397.07 L25.00 396.17 L25.45 395.72 L26.35 395.27 L27.25 395.27 L28.15 395.72 L29.50 396.62 L34.00 401.12 L34.00 394.82"/>
</g>
<g role="img" aria-label="CH4 (ppb)">
<path class="t" d="M1253.21 511.79 L1250.98 512.90 L1248.74 515.12 L1247.62 517.33 L1247.62 521.77 L1248.74 523.99 L1250.98 526.21 L1253.21 527.31 L1256.57 528.42 L1262.16 528.42 L1265.51 527.31 L1267.75 526.21 L1269.98 523.99 L1271.10 521.77 L1271.10 517.33 L1269.98 515.12 L1267.75 512.90 L1265.51 511.79 M1247.62 504.02 L1271.10 504.02 M1247.62 488.50 L1271.10 488.50 M1258.80 504.02 L1258.80 488.50 M1243.15 444.52 L1245.39 446.74 L1248.74 448.96 L1253.21 451.17 L1258.80 452.28 L1263.27 452.28 L1268.86 451.17 L1273.34 448.96 L1276.69 446.74 L1278.93 444.52 M1255.45 436.76 L1278.93 436.76 M1258.80 436.76 L1256.57 434.54 L1255.45 432.32 L1255.45 428.99 L1256.57 426.78 L1258.80 424.56 L1262.16 423.45 L1264.39 423.45 L1267.75 424.56 L1269.98 426.78 L1271.10 428.99 L1271.10 432.32 L1269.98 434.54 L1267.75 436.76 M1255.45 415.69 L1278.93 415.69 M1258.80 415.69 L1256.57 413.47 L1255.45 411.25 L1255.45 407.92 L1256.57 405.71 L1258.80 403.49 L1262.16 402.38 L1264.39 402.38 L1267.75 403.49 L1269.98 405.71 L1271.10 407.92 L1271.10 411.25 L1269.98 413.47 L1267.75 415.69 M1247.62 394.62 L1271.10 394.62 M1258.80 394.62 L1256.57 392.40 L1255.45 390.18 L1255.45 386.85 L1256.57 384.63 L1258.80 382.42 L1262.16 381.31 L1264.39 381.31 L1267.75 382.42 L1269.98 384.63 L1271.10 386.85 L1271.10 390.18 L1269.98 392.40 L1267.75 394.62 M1243.15 374.65 L1245.39 372.44 L1248.74 370.22 L1253.21 368.00 L1258.80 366.89 L1263.27 366.89 L1268.86 368.00 L1273.34 370.22 L1276.69 372.44 L1278.93 374.65"/>
<path class="t" style="stroke-width:2.55" d="M1266.45 477.91 L1272.75 482.41 L1272.75 475.66 M1266.45 477.91 L1275.90 477.91"/>
</g>
</svg></body></html>
